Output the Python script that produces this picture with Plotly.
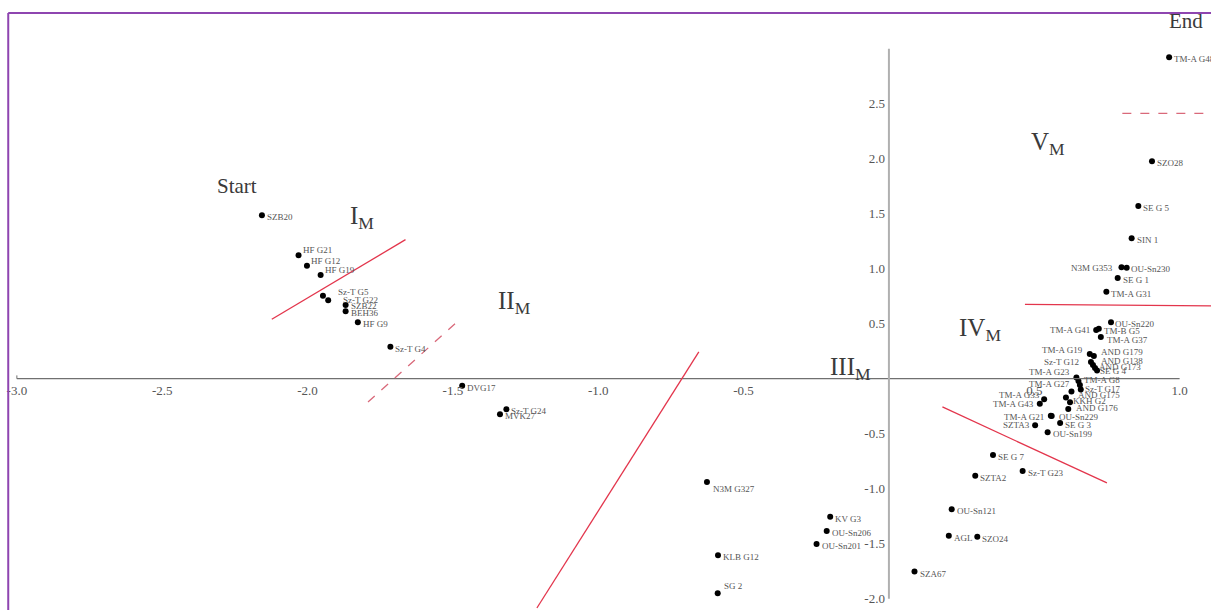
import plotly.graph_objects as go

# Sample scores on the first two discriminant axes
sample_names = [
    "SZB20", "HF G21", "HF G12", "HF G19", "Sz-T G5", "Sz-T G22", "SZB22", "BEH36",
    "HF G9", "Sz-T G4", "DVG17", "Sz-T G24", "MVK27", "N3M G327", "KLB G12", "SG 2",
    "KV G3", "OU-Sn206", "OU-Sn201", "SZA67", "AGL", "SZO24", "OU-Sn121", "SZTA2",
    "SE G 7", "Sz-T G23", "OU-Sn199", "SE G 3", "SZTA3", "TM-A G21", "OU-Sn229",
    "TM-A G43", "TM-A G33", "KKH G2", "", "AND G176", "AND G175", "Sz-T G17",
    "TM-A G27", "TM-A G8", "TM-A G23", "SE G 4", "AND G173", "AND G138", "Sz-T G12",
    "AND G179", "TM-A G19", "TM-A G37", "TM-A G41", "TM-B G5", "OU-Sn220", "TM-A G31",
    "SE G 1", "N3M G353", "OU-Sn230", "SIN 1", "SE G 5", "SZO28", "TM-A G48",
]
score_x = [
    -2.157, -2.031, -2.002, -1.955, -1.947, -1.929, -1.869, -1.869,
    -1.827, -1.715, -1.468, -1.316, -1.338, -0.626, -0.588, -0.589,
    -0.202, -0.214, -0.249, 0.088, 0.206, 0.304, 0.216, 0.297,
    0.358, 0.460, 0.546, 0.589, 0.503, 0.557, 0.560,
    0.519, 0.534, 0.609, 0.623, 0.617, 0.628, 0.660,
    0.657, 0.652, 0.645, 0.716, 0.709, 0.702, 0.695,
    0.705, 0.691, 0.729, 0.713, 0.722, 0.764, 0.748,
    0.787, 0.800, 0.818, 0.835, 0.858, 0.905, 0.964,
]
score_y = [
    1.485, 1.122, 1.027, 0.943, 0.755, 0.713, 0.670, 0.613,
    0.513, 0.291, -0.064, -0.278, -0.324, -0.939, -1.605, -1.951,
    -1.255, -1.385, -1.503, -1.753, -1.427, -1.436, -1.187, -0.882,
    -0.694, -0.839, -0.487, -0.403, -0.424, -0.336, -0.340,
    -0.227, -0.187, -0.171, -0.215, -0.275, -0.116, -0.098,
    -0.057, -0.021, 0.011, 0.075, 0.097, 0.125, 0.152,
    0.206, 0.225, 0.379, 0.443, 0.455, 0.513, 0.791,
    0.915, 1.013, 1.009, 1.276, 1.570, 1.976, 2.922,
]

# Axis ticks
x_ticks = [-3.0, -2.5, -2.0, -1.5, -1.0, -0.5, 0.5, 1.0]
y_ticks = [-2.0, -1.5, -1.0, -0.5, 0.5, 1.0, 1.5, 2.0, 2.5]

# Zone boundaries (x0, y0, x1, y1, dashed)
boundaries = [
    (-2.123, 0.540, -1.663, 1.264, False),
    (-1.792, -0.212, -1.486, 0.515, True),
    (-1.211, -2.085, -0.654, 0.243, False),
    (0.184, -0.257, 0.750, -0.948, False),
    (0.468, 0.676, 1.120, 0.661, False),
    (0.803, 2.413, 1.120, 2.413, True),
]

# Zone names and path ends
zone_text = ["Start", "I<sub>M</sub>", "II<sub>M</sub>", "III<sub>M</sub>",
             "IV<sub>M</sub>", "V<sub>M</sub>", "End"]
zone_x = [-2.243, -1.813, -1.287, -0.131, 0.313, 0.547, 1.022]
zone_y = [1.752, 1.465, 0.695, 0.097, 0.450, 2.140, 3.250]

SERIF = "'Liberation Serif', 'Times New Roman', serif"
X_RANGE = [-3.058, 1.108]
Y_RANGE = [-2.103, 3.443]

# Label placement: (anchor side, x shift px, y shift px)
label_place = {
    "HF G21": ("left", 2, 5), "HF G12": ("left", 2, 5), "HF G19": ("left", 2, 5),
    "Sz-T G5": ("left", 13, 4), "Sz-T G22": ("left", 13, 0),
    "SZB22": ("left", 3, -1), "BEH36": ("left", 3, -2),
    "N3M G327": ("left", 4, -7), "SG 2": ("left", 4, 7),
    "SZTA3": ("right", -3, 0), "TM-A G21": ("right", -5, -1),
    "OU-Sn229": ("left", 5, -1), "TM-A G43": ("right", -4, 0),
    "TM-A G33": ("right", -2, 4), "TM-A G27": ("right", -8, 1),
    "TM-A G23": ("right", -4, 5), "TM-A G8": ("left", 4, 1),
    "Sz-T G17": ("left", 2, 0), "AND G175": ("left", 5, -4),
    "KKH G2": ("left", 5, -3), "AND G176": ("left", 6, 1),
    "TM-A G19": ("right", -5, 4), "AND G179": ("left", 5, 4),
    "Sz-T G12": ("right", -10, 0), "AND G138": ("left", 6, 4),
    "AND G173": ("left", 2, 1), "SE G 4": ("left", 1, -1),
    "TM-A G41": ("right", -4, 0), "TM-B G5": ("left", 3, -2),
    "TM-A G37": ("left", 4, -3), "OU-Sn220": ("left", 2, -2),
    "N3M G353": ("right", -6, -1), "OU-Sn230": ("left", 2, -1),
}

fig = go.Figure()

fig.add_trace(go.Scatter(
    x=score_x, y=score_y, mode="markers",
    marker=dict(color="black", size=6),
    hovertext=sample_names, hoverinfo="text",
    cliponaxis=False,
))

annotations = []
for name, xv, yv in zip(sample_names, score_x, score_y):
    if not name:
        continue
    side, dx, dy = label_place.get(name, ("left", 3, -2))
    annotations.append(dict(
        x=xv, y=yv, text=name, showarrow=False,
        xanchor=side, yanchor="middle", xshift=dx, yshift=dy,
        font=dict(family=SERIF, size=9, color="#555555"),
    ))

for txt, xv, yv in zip(zone_text, zone_x, zone_y):
    big = txt in ("Start", "End")
    annotations.append(dict(
        x=xv, y=yv, text=txt, showarrow=False,
        xanchor="center", yanchor="middle",
        font=dict(family=SERIF, size=21 if big else 25, color="#3a3a3a"),
    ))

shapes = []
# crossing axes
shapes.append(dict(type="line", xref="x", yref="y", x0=-3.0, y0=0, x1=1.0, y1=0,
                   line=dict(color="#707070", width=1.2)))
shapes.append(dict(type="line", xref="x", yref="y", x0=-3.0, y0=0, x1=-3.0, y1=0.03,
                   line=dict(color="#707070", width=1)))
shapes.append(dict(type="line", xref="x", yref="y", x0=0, y0=-2.0, x1=0, y1=3.0,
                   line=dict(color="#b0b0b0", width=2)))
for x0, y0, x1, y1, dashed in boundaries:
    shapes.append(dict(
        type="line", xref="x", yref="y", x0=x0, y0=y0, x1=x1, y1=y1,
        line=dict(color="#d9697a" if dashed else "#e3354c", width=1.3,
                  dash="dash" if dashed else "solid"),
    ))
# frame on left and top
shapes.append(dict(type="line", xref="paper", yref="paper", x0=0.0068, y0=0.9785,
                   x1=0.0068, y1=-0.01, line=dict(color="#8e45b0", width=2)))
shapes.append(dict(type="line", xref="paper", yref="paper", x0=0.0068, y0=0.9785,
                   x1=1.01, y1=0.9785, line=dict(color="#8e45b0", width=2)))

x_cross = (0 - X_RANGE[0]) / (X_RANGE[1] - X_RANGE[0])
y_cross = (0 - Y_RANGE[0]) / (Y_RANGE[1] - Y_RANGE[0])

fig.update_layout(
    width=1211, height=610,
    margin=dict(l=0, r=0, t=0, b=0, pad=0),
    paper_bgcolor="white", plot_bgcolor="white",
    showlegend=False,
    font=dict(family=SERIF),
    annotations=annotations,
    shapes=shapes,
    xaxis=dict(
        range=X_RANGE, anchor="free", position=y_cross,
        showline=False, showgrid=False, zeroline=False, ticks="",
        tickvals=x_ticks, ticktext=[f"{v:.1f}" for v in x_ticks],
        ticklabelstandoff=2,
        tickfont=dict(family=SERIF, size=13, color="#555555"),
    ),
    yaxis=dict(
        range=Y_RANGE, anchor="free", position=x_cross,
        showline=False, showgrid=False, zeroline=False, ticks="",
        tickvals=y_ticks, ticktext=[f"{v:.1f}" for v in y_ticks],
        ticklabelstandoff=4,
        tickfont=dict(family=SERIF, size=13, color="#555555"),
    ),
)

fig.write_html("out.html")
